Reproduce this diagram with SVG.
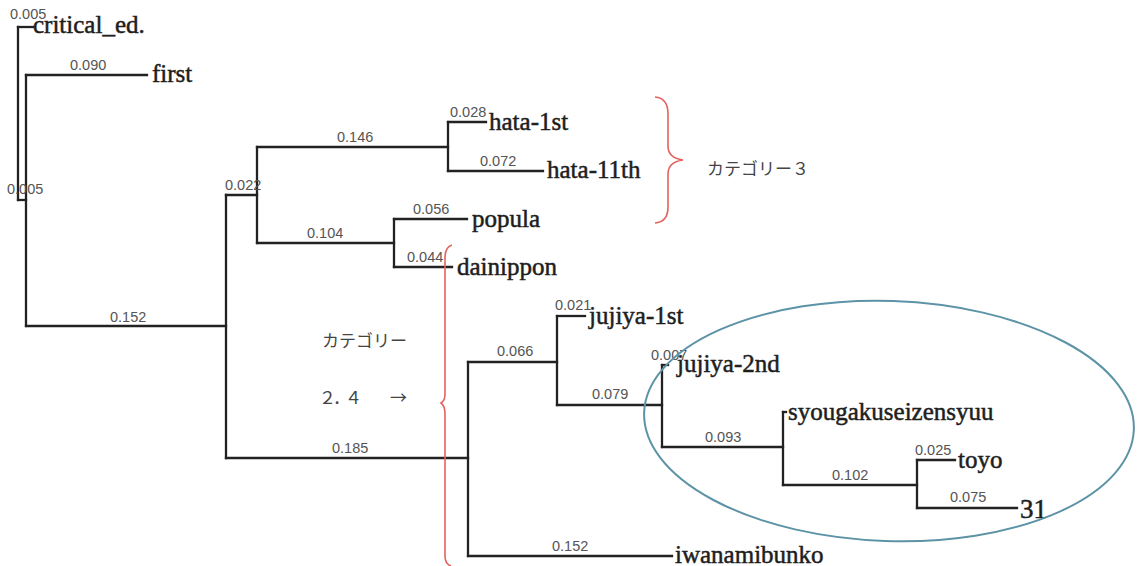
<svg xmlns="http://www.w3.org/2000/svg" width="1141" height="566" viewBox="0 0 1141 566">
  <style>
    .br { fill: none; stroke: #222; stroke-width: 2.3; stroke-linecap: square; }
    .len { font-family: "Liberation Sans", Arial, sans-serif; font-size: 14.5px; fill: #555; }
    .leaf { font-family: "Liberation Serif", "Times New Roman", serif; font-size: 25px; fill: #1e1e1e; stroke: #1e1e1e; stroke-width: 0.5; }
    .jp { font-family: "Noto Sans CJK JP", "Noto Sans", sans-serif; font-size: 17px; fill: #444; }
    .red { fill: none; stroke: #e4625e; stroke-width: 1.6; }
    .blue { fill: none; stroke: #5d93a6; stroke-width: 2; }
  </style>
  <rect width="1141" height="566" fill="#fff"/>

  <!-- tree branches: parent vertical, then horizontal out to the child -->
  <g id="connectors">
    <path class="br" d="M18 27 V200"/>
    <path class="br" d="M18 27 H33"/>
    <path class="br" d="M18 200 H26"/>
    <path class="br" d="M26 75 V326"/>
    <path class="br" d="M26 75 H147"/>
    <path class="br" d="M26 326 H226"/>
    <path class="br" d="M226 195 V458"/>
    <path class="br" d="M226 195 H257"/>
    <path class="br" d="M226 458 H468"/>
    <path class="br" d="M257 147 V243"/>
    <path class="br" d="M257 147 H448"/>
    <path class="br" d="M257 243 H394"/>
    <path class="br" d="M448 122 V171"/>
    <path class="br" d="M448 122 H486"/>
    <path class="br" d="M448 171 H543"/>
    <path class="br" d="M394 219 V267"/>
    <path class="br" d="M394 219 H467"/>
    <path class="br" d="M394 267 H452"/>
    <path class="br" d="M468 362 V556"/>
    <path class="br" d="M468 362 H557"/>
    <path class="br" d="M468 556 H672"/>
    <path class="br" d="M557 316 V405"/>
    <path class="br" d="M557 316 H585"/>
    <path class="br" d="M557 405 H662"/>
    <path class="br" d="M662 365 V447"/>
    <path class="br" d="M662 365 H668"/>
    <path class="br" d="M662 447 H783"/>
    <path class="br" d="M783 412 V485"/>
    <path class="br" d="M783 412 H786"/>
    <path class="br" d="M783 485 H917"/>
    <path class="br" d="M917 460 V508"/>
    <path class="br" d="M917 460 H955"/>
    <path class="br" d="M917 508 H1017"/>

    <!-- branch lengths -->
    <g class="len">
      <text x="10" y="19">0.005</text>
      <text x="70" y="70">0.090</text>
      <text x="7" y="194">0.005</text>
      <text x="110" y="322">0.152</text>
      <text x="225" y="190">0.022</text>
      <text x="337" y="142">0.146</text>
      <text x="450" y="117">0.028</text>
      <text x="480" y="166">0.072</text>
      <text x="307" y="238">0.104</text>
      <text x="413" y="214">0.056</text>
      <text x="407" y="262">0.044</text>
      <text x="332" y="453">0.185</text>
      <text x="497" y="356">0.066</text>
      <text x="555" y="310">0.021</text>
      <text x="592" y="399">0.079</text>
      <text x="651" y="360">0.007</text>
      <text x="705" y="442">0.093</text>
      <text x="832" y="480">0.102</text>
      <text x="915" y="455">0.025</text>
      <text x="950" y="502">0.075</text>
      <text x="552" y="551">0.152</text>
    </g>
  </g>

  <!-- leaves -->
  <g id="critical_ed"><text class="leaf" x="33" y="33">critical_ed.</text></g>
  <g id="first"><text class="leaf" x="152" y="82">first</text></g>
  <g id="hata-1st"><text class="leaf" x="489" y="130">hata-1st</text></g>
  <g id="hata-11th"><text class="leaf" x="547" y="178">hata-11th</text></g>
  <g id="popula"><text class="leaf" x="472" y="227">popula</text></g>
  <g id="dainippon"><text class="leaf" x="457" y="275">dainippon</text></g>
  <g id="jujiya-1st"><text class="leaf" x="589" y="324">jujiya-1st</text></g>
  <g id="jujiya-2nd"><text class="leaf" x="677" y="372">jujiya-2nd</text></g>
  <g id="syougakuseizensyuu"><text class="leaf" x="788" y="420">syougakuseizensyuu</text></g>
  <g id="toyo"><text class="leaf" x="958" y="468">toyo</text></g>
  <g id="n31"><text class="leaf" x="1020" y="518" style="font-size:27px">31</text></g>
  <g id="iwanamibunko"><text class="leaf" x="675" y="563">iwanamibunko</text></g>

  <!-- category annotations -->
  <g id="category3">
    <path class="red" d="M655 97 Q668 98 668 114 L668 146 Q668 158 683 160 Q668 162 668 174 L668 207 Q668 222 655 223"/>
    <text class="jp" x="707" y="175">カテゴリー３</text>
  </g>
  <g id="category24">
    <path class="red" d="M452 245 Q445 247 445 258 L445 394 Q445 401 441 403 Q445 406 445 414 L445 556 Q445 564 451 566"/>
    <text class="jp" x="322" y="347">カテゴリー</text>
    <text class="jp" x="319 333 345 370 390" y="404">２．４　→</text>
  </g>
  <g id="cluster">
    <ellipse class="blue" cx="889" cy="421" rx="245" ry="120" transform="rotate(2 889 421)"/>
  </g>
</svg>
